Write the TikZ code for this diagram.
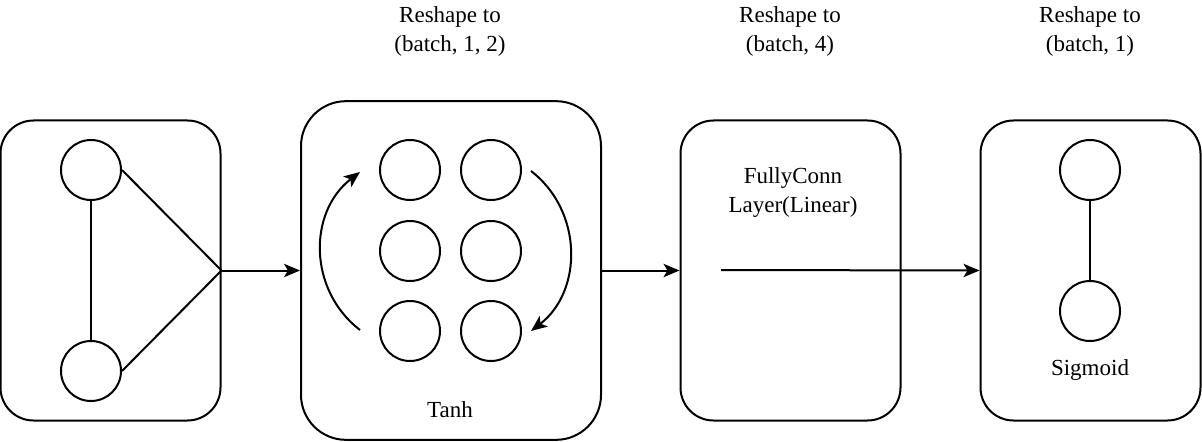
\documentclass[tikz,border=0pt]{standalone}
\usepackage{fontspec}
\setmainfont{Liberation Serif}
\usepackage{tikz}
\usetikzlibrary{positioning, calc, arrows.meta}
\tikzstyle{layerbox} = [draw, rectangle, rounded corners = 24.75pt,
minimum width = 165pt, minimum height = 225pt,
line width = 1.5pt, inner sep = 0pt]
\tikzstyle{neuron} = [draw, circle, minimum size = 45pt,
line width = 1.5pt, inner sep = 0pt]
\tikzstyle{caption} = [align = center, inner sep = 0pt,
font = \fontsize{17.25}{21.75}\selectfont]
\tikzstyle{arr} = [line width = 1.5pt,
-{Stealth[length = 12pt, width = 10pt, inset = 3pt]}]

\begin{document}
\begin{tikzpicture}[x = 0.75pt, y = -0.75pt]
	\useasboundingbox (0, 0) rectangle (1202, 442);
	\coordinate (a) at (110.5, 270.5);
	\coordinate (b) at (451, 270.5);
	\coordinate (c) at (790.5, 270.5);
	\coordinate (d) at (1090.5, 270.5);
	\node[layerbox](input) at (a) {};
	\node[layerbox, minimum width = 225pt, minimum height = 254pt,
		rounded corners = 33.75pt](tanh) at (b) {};
	\node[layerbox](linear) at (c) {};
	\node[layerbox](sigm) at (d) {};
	%% Input graph
	\node[neuron](in1) at (91, 170) {};
	\node[neuron](in2) at (91, 371) {};
	\draw[line width = 1.5pt] (in1) -- (in2);
	\draw[line width = 1.5pt] (in1.east) -- (input.east);
	\draw[line width = 1.5pt] (in2.east) -- (input.east);
	%% Tanh grid
	\node[neuron](t11) at (410, 170) {};
	\node[neuron](t12) at (491, 170) {};
	\node[neuron](t21) at (410, 251) {};
	\node[neuron](t22) at (491, 251) {};
	\node[neuron](t31) at (410, 331) {};
	\node[neuron](t32) at (491, 331) {};
	\coordinate (la) at (360, 330);
	\coordinate (lb) at (360, 172);
	\coordinate (ra) at (531, 171);
	\coordinate (rb) at (531, 331);
	\draw[arr] (la) .. controls +(-52, -40) and +(-52, 40) .. (lb);
	\draw[arr] (ra) .. controls +(52, 40) and +(52, -40) .. (rb);
	\node[caption](tanhText) at (450, 410) {Tanh};
	%% Linear layer
	\node[caption](linText) at (793, 193) {FullyConn\\Layer(Linear)};
	\coordinate (lin) at (721, 270);
	%% Sigmoid output
	\node[neuron](out1) at (1090, 170) {};
	\node[neuron](out2) at (1090, 311) {};
	\draw[line width = 1.5pt] (out1) -- (out2);
	\node[caption](sigText) at (1090, 370) {Sigmoid};
	%% Reshape labels
	\node[caption](rs1) at (450, 31) {Reshape to\\(batch, 1, 2)};
	\node[caption](rs2) at (790, 31) {Reshape to\\(batch, 4)};
	\node[caption](rs3) at (1090, 31) {Reshape to\\(batch, 1)};
	%% Between layers
	\draw[arr] (input.east) -- (tanh.west);
	\draw[arr] (tanh.east) -- (linear.west);
	\draw[arr] (lin) -- (sigm.west);
\end{tikzpicture}
\end{document}
